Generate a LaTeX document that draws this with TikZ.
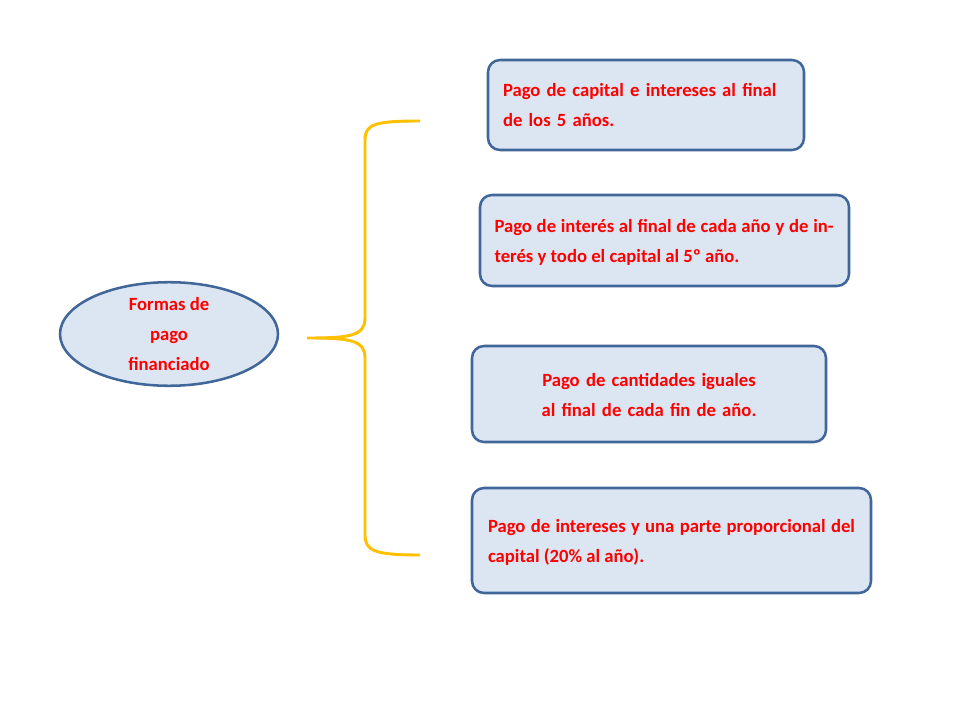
\documentclass[tikz,border=0pt]{standalone}
\usepackage{fontspec}
\setmainfont{Carlito}
\usetikzlibrary{shapes.geometric}
\definecolor{fillb}{HTML}{DCE6F2}
\definecolor{edgeb}{HTML}{41679A}
\definecolor{txtr}{HTML}{FF0000}
\definecolor{bracec}{HTML}{FFC000}
\tikzset{
 box/.style={draw=edgeb,fill=fillb,line width=1.9pt,rounded corners=9pt,inner sep=0pt,font=\fontsize{14}{22.5}\selectfont\bfseries,text=txtr},
 brace/.style={draw=bracec,line width=2.2pt}
}
\begin{document}
\begin{tikzpicture}[x=0.75pt,y=-0.75pt]
\useasboundingbox[fill=white] (0,0) rectangle (960,720);
\node[ellipse,draw=edgeb,fill=fillb,line width=1.9pt,minimum width=218*0.75pt,minimum height=94*0.75pt,inner sep=0pt,font=\fontsize{14}{22.5}\selectfont\bfseries,text=txtr,align=center] (e) at (169,334) {Formas de\\pago\\financiado};
\node[box,minimum width=316*0.75pt,minimum height=90*0.75pt] (b1) at (646,105) {};
\node[text width=290*0.75pt,align=left,font=\fontsize{14}{22.5}\selectfont\bfseries,text=txtr,inner sep=0pt] (t1) at (648,105) {Pago de capital e intereses al final de los 5 años.};
\node[box,minimum width=369*0.75pt,minimum height=91*0.75pt] (b2) at (664.5,240.5) {};
\node[text width=339*0.75pt,align=justify,font=\fontsize{14}{22.5}\selectfont\bfseries,text=txtr,inner sep=0pt] (t2) at (664,242) {Pago de interés al final de cada año y de interés y todo el capital al 5º año.};
\node[box,minimum width=354*0.75pt,minimum height=96*0.75pt] (b3) at (649,394) {};
\node[text width=320*0.75pt,align=center,font=\fontsize{14}{22.5}\selectfont\bfseries,text=txtr,inner sep=0pt] (t3) at (649,395) {Pago de cantidades iguales al final de cada fin de año.};
\node[box,minimum width=399*0.75pt,minimum height=105*0.75pt] (b4) at (671.5,540.5) {};
\node[text width=367*0.75pt,align=justify,font=\fontsize{14}{22.5}\selectfont\bfseries,text=txtr,inner sep=0pt] (t4) at (671.5,542) {Pago de intereses y una parte proporcional del capital (20\% al año).};
\coordinate (top) at (420,121);
\coordinate (bot) at (420,555);
\coordinate (tip) at (307,338);
\draw[brace] (top) .. controls (375,121) and (365,124) .. (365,140) -- (365,318) .. controls (365,336) and (350,338) .. (tip)
  .. controls (350,338) and (365,340) .. (365,358) -- (365,535) .. controls (365,551) and (375,555) .. (bot);
\end{tikzpicture}
\end{document}
